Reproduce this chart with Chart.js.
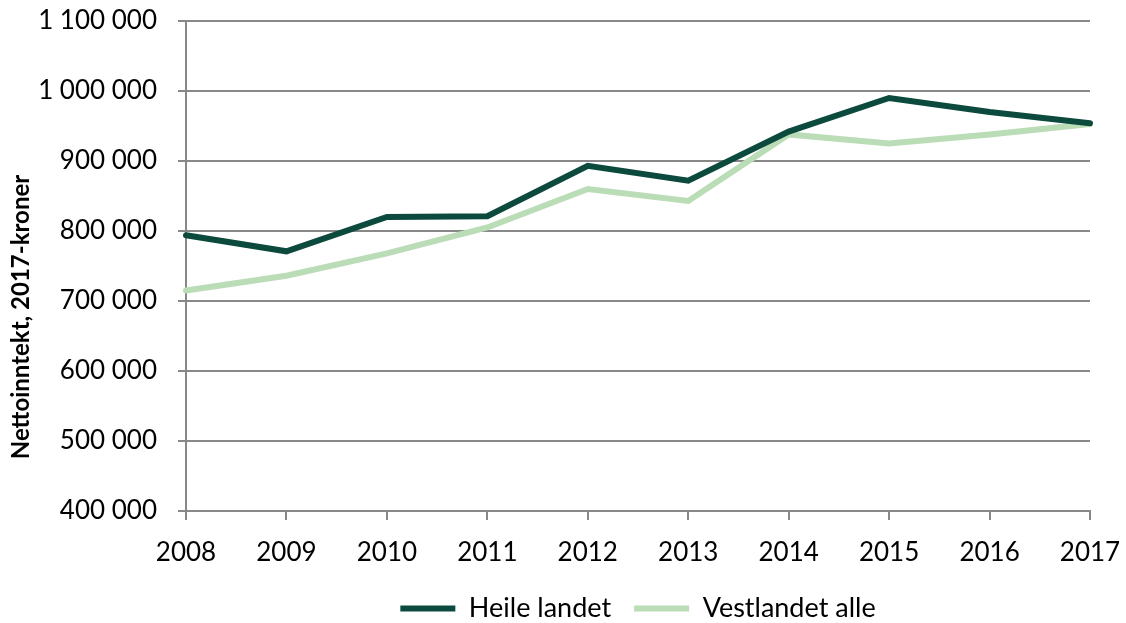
<!DOCTYPE html>
<html>
<head>
<meta charset="utf-8">
<script src="https://cdn.jsdelivr.net/npm/chart.js@4/dist/chart.umd.min.js"></script>
<style>
  html, body { margin: 0; padding: 0; background: #fff; }
  #wrap { width: 1126px; height: 623px; }
</style>
</head>
<body>
<div id="wrap"><canvas id="chart" width="1126" height="623"></canvas></div>
<script>
const years = ['2008', '2009', '2010', '2011', '2012', '2013', '2014', '2015', '2016', '2017'];
const heileLandet = [794000, 771000, 820000, 821000, 893000, 872000, 942000, 990000, 970000, 954000];
const vestlandetAlle = [715000, 736000, 768000, 805000, 860000, 843000, 938000, 925000, 938000, 953000];
const yMin = 400000;
const yMax = 1100000;
const yStep = 100000;
const yTitle = 'Nettoinntekt, 2017-kroner';

const font = 'Lato, "Open Sans", sans-serif';
const gridColor = '#888888';

function fmt(v) {
    return String(v).replace(/\B(?=(\d{3})+(?!\d))/g, ' ');
}

// y title drawn by hand so it sits where the original one is
const yTitlePlugin = {
    id: 'yTitle',
    afterDraw(chart) {
        const ctx = chart.ctx;
        ctx.save();
        ctx.translate(21, 317);
        ctx.rotate(-Math.PI / 2);
        ctx.font = 'bold 24px ' + font;
        ctx.fillStyle = '#000';
        ctx.textAlign = 'center';
        ctx.textBaseline = 'middle';
        ctx.fillText(yTitle, 0, 0);
        ctx.restore();
    }
};

new Chart(document.getElementById('chart'), {
    type: 'line',
    data: {
        labels: years,
        datasets: [{
            label: 'Heile landet',
            data: heileLandet,
            borderColor: '#0b4a3c',
            backgroundColor: '#0b4a3c',
            borderWidth: 6,
            borderCapStyle: 'round',
            pointRadius: 0,
            tension: 0
        }, {
            label: 'Vestlandet alle',
            data: vestlandetAlle,
            borderColor: '#badcb6',
            backgroundColor: '#badcb6',
            borderWidth: 6,
            borderCapStyle: 'round',
            pointRadius: 0,
            tension: 0
        }]
    },
    options: {
        responsive: false,
        animation: false,
        layout: { padding: { left: 0, right: 36, top: 21, bottom: -9 } },
        plugins: {
            tooltip: { enabled: false },
            legend: {
                position: 'bottom',
                fullSize: false,
                labels: {
                    usePointStyle: true,
                    pointStyle: 'line',
                    pointStyleWidth: 55,
                    boxHeight: 5,
                    font: { family: font, size: 27 },
                    color: '#000',
                    padding: 23
                }
            }
        },
        scales: {
            x: {
                grid: { drawOnChartArea: false, drawTicks: true, tickLength: 9, color: gridColor, lineWidth: 2 },
                border: { color: gridColor, width: 2 },
                ticks: { font: { family: font, size: 26 }, color: '#000', padding: 17, maxRotation: 0 },
                afterFit(scale) {
                    scale.height = 61;
                    scale.paddingLeft = 0;
                    scale.paddingRight = 0;
                }
            },
            y: {
                min: yMin,
                max: yMax,
                ticks: {
                    stepSize: yStep,
                    font: { family: font, size: 26 },
                    color: '#000',
                    padding: 21,
                    callback: v => fmt(v)
                },
                grid: { color: gridColor, lineWidth: 2, tickLength: 8 },
                border: { color: gridColor, width: 2 },
                afterFit(scale) {
                    scale.width = 186;
                    scale.paddingTop = 0;
                    scale.paddingBottom = 0;
                }
            }
        }
    },
    plugins: [yTitlePlugin]
});
</script>
</body>
</html>
